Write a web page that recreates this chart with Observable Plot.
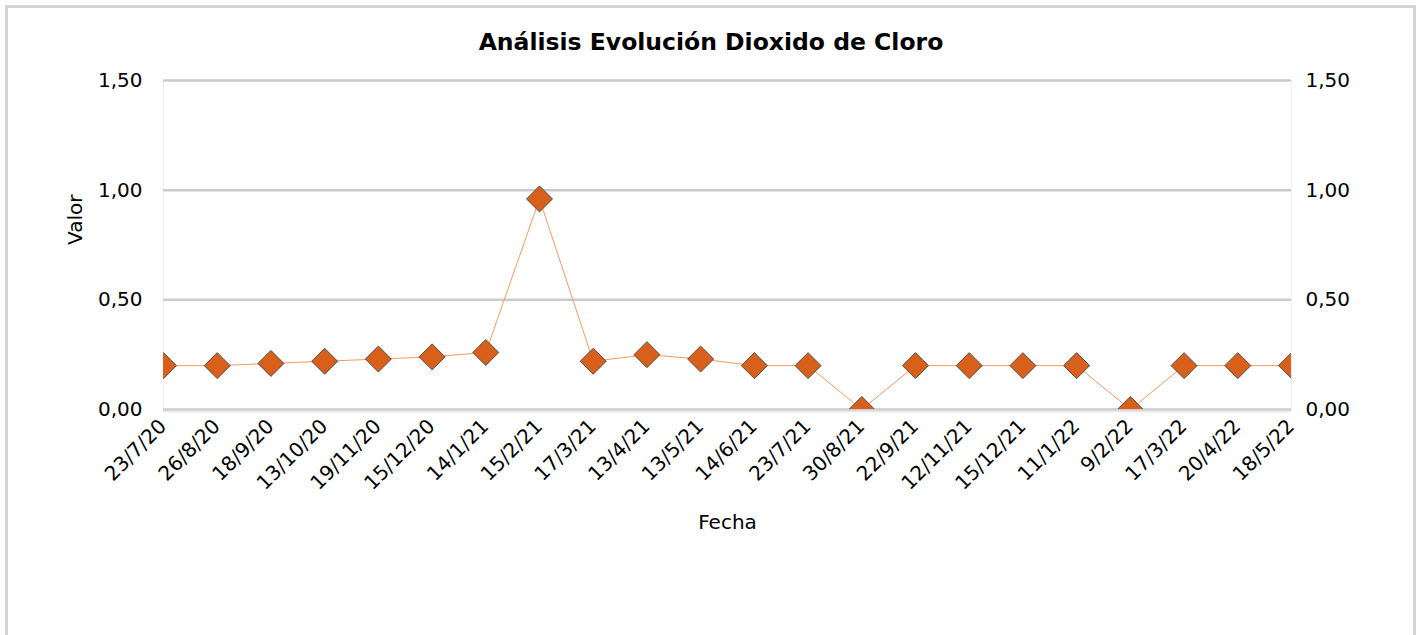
<!DOCTYPE html>
<html>
<head>
<meta charset="utf-8">
<script src="https://cdn.jsdelivr.net/npm/d3@7"></script>
<script src="https://cdn.jsdelivr.net/npm/@observablehq/plot@0.6"></script>
<style>
  html, body { margin: 0; padding: 0; background: #fff; width: 1422px; height: 635px; overflow: hidden; }
  #frame { position: absolute; left: 5px; top: 5px; width: 1405px; height: 640px; border: 3px solid #d4d4d4; border-bottom: none; }
  #title { position: absolute; left: 0; top: 27px; width: 1422px; text-align: center; font-family: "DejaVu Sans", sans-serif; font-weight: bold; font-size: 23.5px; color: #000; margin: 0; line-height: 30px; }
  #chart { position: absolute; left: 0; top: 0; }
</style>
</head>
<body>
<div id="frame"></div>
<h1 id="title">Análisis Evolución Dioxido de Cloro</h1>
<div id="chart"></div>
<script>
const fechas = ["23/7/20","26/8/20","18/9/20","13/10/20","19/11/20","15/12/20","14/1/21","15/2/21","17/3/21","13/4/21","13/5/21","14/6/21","23/7/21","30/8/21","22/9/21","12/11/21","15/12/21","11/1/22","9/2/22","17/3/22","20/4/22","18/5/22"];
const valores = [0.20,0.20,0.21,0.22,0.23,0.24,0.26,0.96,0.22,0.25,0.23,0.20,0.20,0.00,0.20,0.20,0.20,0.20,0.00,0.20,0.20,0.20];
const yTicks = [0, 0.5, 1, 1.5];
const xLabel = "Fecha";
const yLabel = "Valor";

const data = fechas.map((f, i) => ({fecha: f, valor: valores[i]}));
const fmt = v => d3.format(".2f")(v).replace(".", ",");
const font = "DejaVu Sans, sans-serif";

const plot = Plot.plot({
  width: 1422,
  height: 635,
  marginLeft: 163,
  marginRight: 131,
  marginTop: 80,
  marginBottom: 226,
  style: {fontFamily: font, fontSize: "20px", background: "transparent", overflow: "visible"},
  x: {type: "point", domain: fechas, padding: 0, round: false, axis: null},
  y: {domain: [0, 1.5], axis: null},
  marks: [
    Plot.frame({stroke: "#f0f0f0", strokeWidth: 1}),
    Plot.ruleY(yTicks, {stroke: "#cbcbcb", strokeWidth: 2.5}),
    Plot.ruleY([0], {stroke: "#e6e6e6", strokeWidth: 1.5, dy: 2}),
    Plot.text(yTicks, {y: d => d, text: fmt, frameAnchor: "left", textAnchor: "end", dx: -21, fill: "#000", fontSize: 20}),
    Plot.text(yTicks, {y: d => d, text: fmt, frameAnchor: "right", textAnchor: "start", dx: 14, fill: "#000", fontSize: 20}),
    Plot.text(fechas, {x: d => d, text: d => d, frameAnchor: "bottom", textAnchor: "end", rotate: -45, dy: 18, dx: 4, fill: "#000", fontSize: 20}),
    Plot.text([xLabel], {text: d => d, frameAnchor: "bottom", dy: 119, fill: "#000", fontSize: 20}),
    Plot.text([yLabel], {text: d => d, frameAnchor: "left", rotate: -90, dx: -88, dy: 0, fill: "#000", fontSize: 20}),
    Plot.line(data, {x: "fecha", y: "valor", stroke: "#f29a63", strokeWidth: 1, clip: true}),
    Plot.dot(data, {x: "fecha", y: "valor", symbol: "diamond2", r: 11.7, fill: "#d9601a", stroke: "#4d4d4d", strokeWidth: 1, clip: true})
  ]
});
document.getElementById("chart").appendChild(plot);
</script>
</body>
</html>
